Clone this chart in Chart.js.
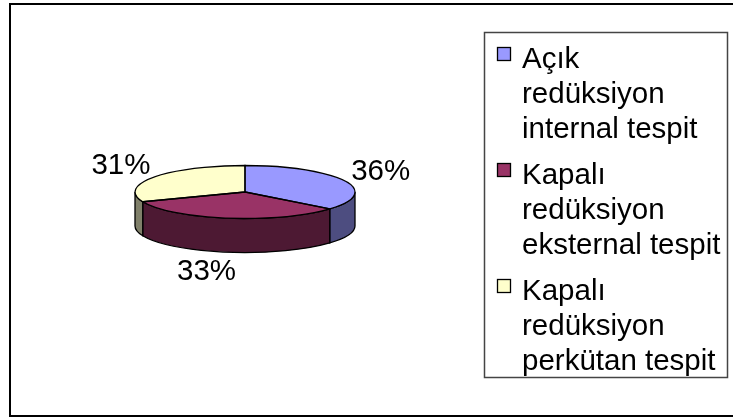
<!DOCTYPE html>
<html>
<head>
<meta charset="utf-8">
<script src="https://cdn.jsdelivr.net/npm/chart.js@4.4.1/dist/chart.umd.min.js"></script>
<style>
  body { margin: 0; background: #fff; }
  #wrap { position: relative; width: 733px; height: 419px; }
</style>
</head>
<body>
<div id="wrap"><canvas id="pie" width="733" height="419"></canvas></div>
<script>
// kategoriler (legend satırlarına bölünmüş)
const categories = [
  ['Açık', 'redüksiyon', 'internal tespit'],
  ['Kapalı', 'redüksiyon', 'eksternal tespit'],
  ['Kapalı', 'redüksiyon', 'perkütan tespit']
];
const shares = [36, 33, 31];
const topColors = ['#9999FF', '#993366', '#FFFFCC'];
const sideColors = ['#4D4D80', '#4D1933', '#80806A'];

const FONT = '29.5px "Liberation Sans", Arial, sans-serif';

// 3D görünüm: elips merkez / yarıçap / derinlik
const CX = 245, CY = 192, RX = 110, RY = 26.5, DEPTH = 34;

const pie3d = {
  id: 'pie3d',
  beforeDatasetsDraw(chart) {
    const ctx = chart.ctx;
    const arcs = chart.getDatasetMeta(0).data;
    const R = arcs[0].outerRadius, ox = arcs[0].x, oy = arcs[0].y;
    ctx.save();
    // yan duvarlar (sadece ön yarı görünür)
    arcs.forEach((a, i) => {
      const s = Math.max(a.startAngle, 0);
      const e = Math.min(a.endAngle, Math.PI);
      if (e <= s) return;
      ctx.beginPath();
      ctx.ellipse(CX, CY, RX, RY, 0, s, e);
      ctx.lineTo(CX + RX * Math.cos(e), CY + DEPTH + RY * Math.sin(e));
      ctx.ellipse(CX, CY + DEPTH, RX, RY, 0, e, s, true);
      ctx.closePath();
      ctx.fillStyle = sideColors[i];
      ctx.fill();
      ctx.lineWidth = 1.3;
      ctx.strokeStyle = '#000';
      ctx.stroke();
    });
    // üst yüz: pastayı elipse sıkıştır
    ctx.translate(CX, CY);
    ctx.scale(RX / R, RY / R);
    ctx.translate(-ox, -oy);
  },
  afterDatasetsDraw(chart) {
    const ctx = chart.ctx;
    ctx.restore();
    const arcs = chart.getDatasetMeta(0).data;
    ctx.save();
    ctx.lineWidth = 1.3;
    ctx.strokeStyle = '#000';
    arcs.forEach(a => {
      ctx.beginPath();
      ctx.moveTo(CX, CY);
      ctx.lineTo(CX + RX * Math.cos(a.startAngle), CY + RY * Math.sin(a.startAngle));
      ctx.ellipse(CX, CY, RX, RY, 0, a.startAngle, a.endAngle);
      ctx.closePath();
      ctx.stroke();
    });
    // yüzde etiketleri
    const data = chart.data.datasets[0].data;
    const total = data.reduce((s, v) => s + v, 0);
    ctx.font = FONT;
    ctx.fillStyle = '#000';
    ctx.textAlign = 'center';
    ctx.textBaseline = 'middle';
    arcs.forEach((a, i) => {
      const m = (a.startAngle + a.endAngle) / 2;
      let x = CX + (RX + 40) * Math.cos(m);
      let y = CY + (RY + 20) * Math.sin(m);
      if (Math.sin(m) > 0) { y += DEPTH; x -= 15; }
      ctx.fillText(Math.round(data[i] / total * 100) + '%', x, y);
    });
    ctx.restore();
  },
  afterDraw(chart) {
    const ctx = chart.ctx;
    ctx.save();
    // dış çerçeve
    ctx.lineWidth = 2;
    ctx.strokeStyle = '#000';
    ctx.strokeRect(10, 4, 730, 412);
    // legend kutusu
    ctx.lineWidth = 1.5;
    ctx.strokeStyle = '#444';
    ctx.strokeRect(484.5, 32.5, 243, 345);
    ctx.font = FONT;
    ctx.textAlign = 'left';
    ctx.textBaseline = 'alphabetic';
    const bg = chart.data.datasets[0].backgroundColor;
    categories.forEach((lines, i) => {
      const base = 68 + i * 116;
      ctx.fillStyle = bg[i];
      ctx.fillRect(497.5, base - 20.5, 13, 13);
      ctx.lineWidth = 1.3;
      ctx.strokeStyle = '#000';
      ctx.strokeRect(497.5, base - 20.5, 13, 13);
      ctx.fillStyle = '#000';
      lines.forEach((t, j) => ctx.fillText(t, 522, base + j * 35));
    });
    ctx.restore();
  }
};

new Chart(document.getElementById('pie'), {
  type: 'pie',
  data: {
    labels: categories.map(l => l.join(' ')),
    datasets: [{
      data: shares,
      backgroundColor: topColors,
      borderWidth: 0,
      clip: false
    }]
  },
  options: {
    responsive: false,
    animation: false,
    devicePixelRatio: 1,
    layout: { padding: { left: 20, right: 280, top: 20, bottom: 20 } },
    plugins: {
      legend: { display: false },
      tooltip: { enabled: false }
    }
  },
  plugins: [pie3d]
});
</script>
</body>
</html>
